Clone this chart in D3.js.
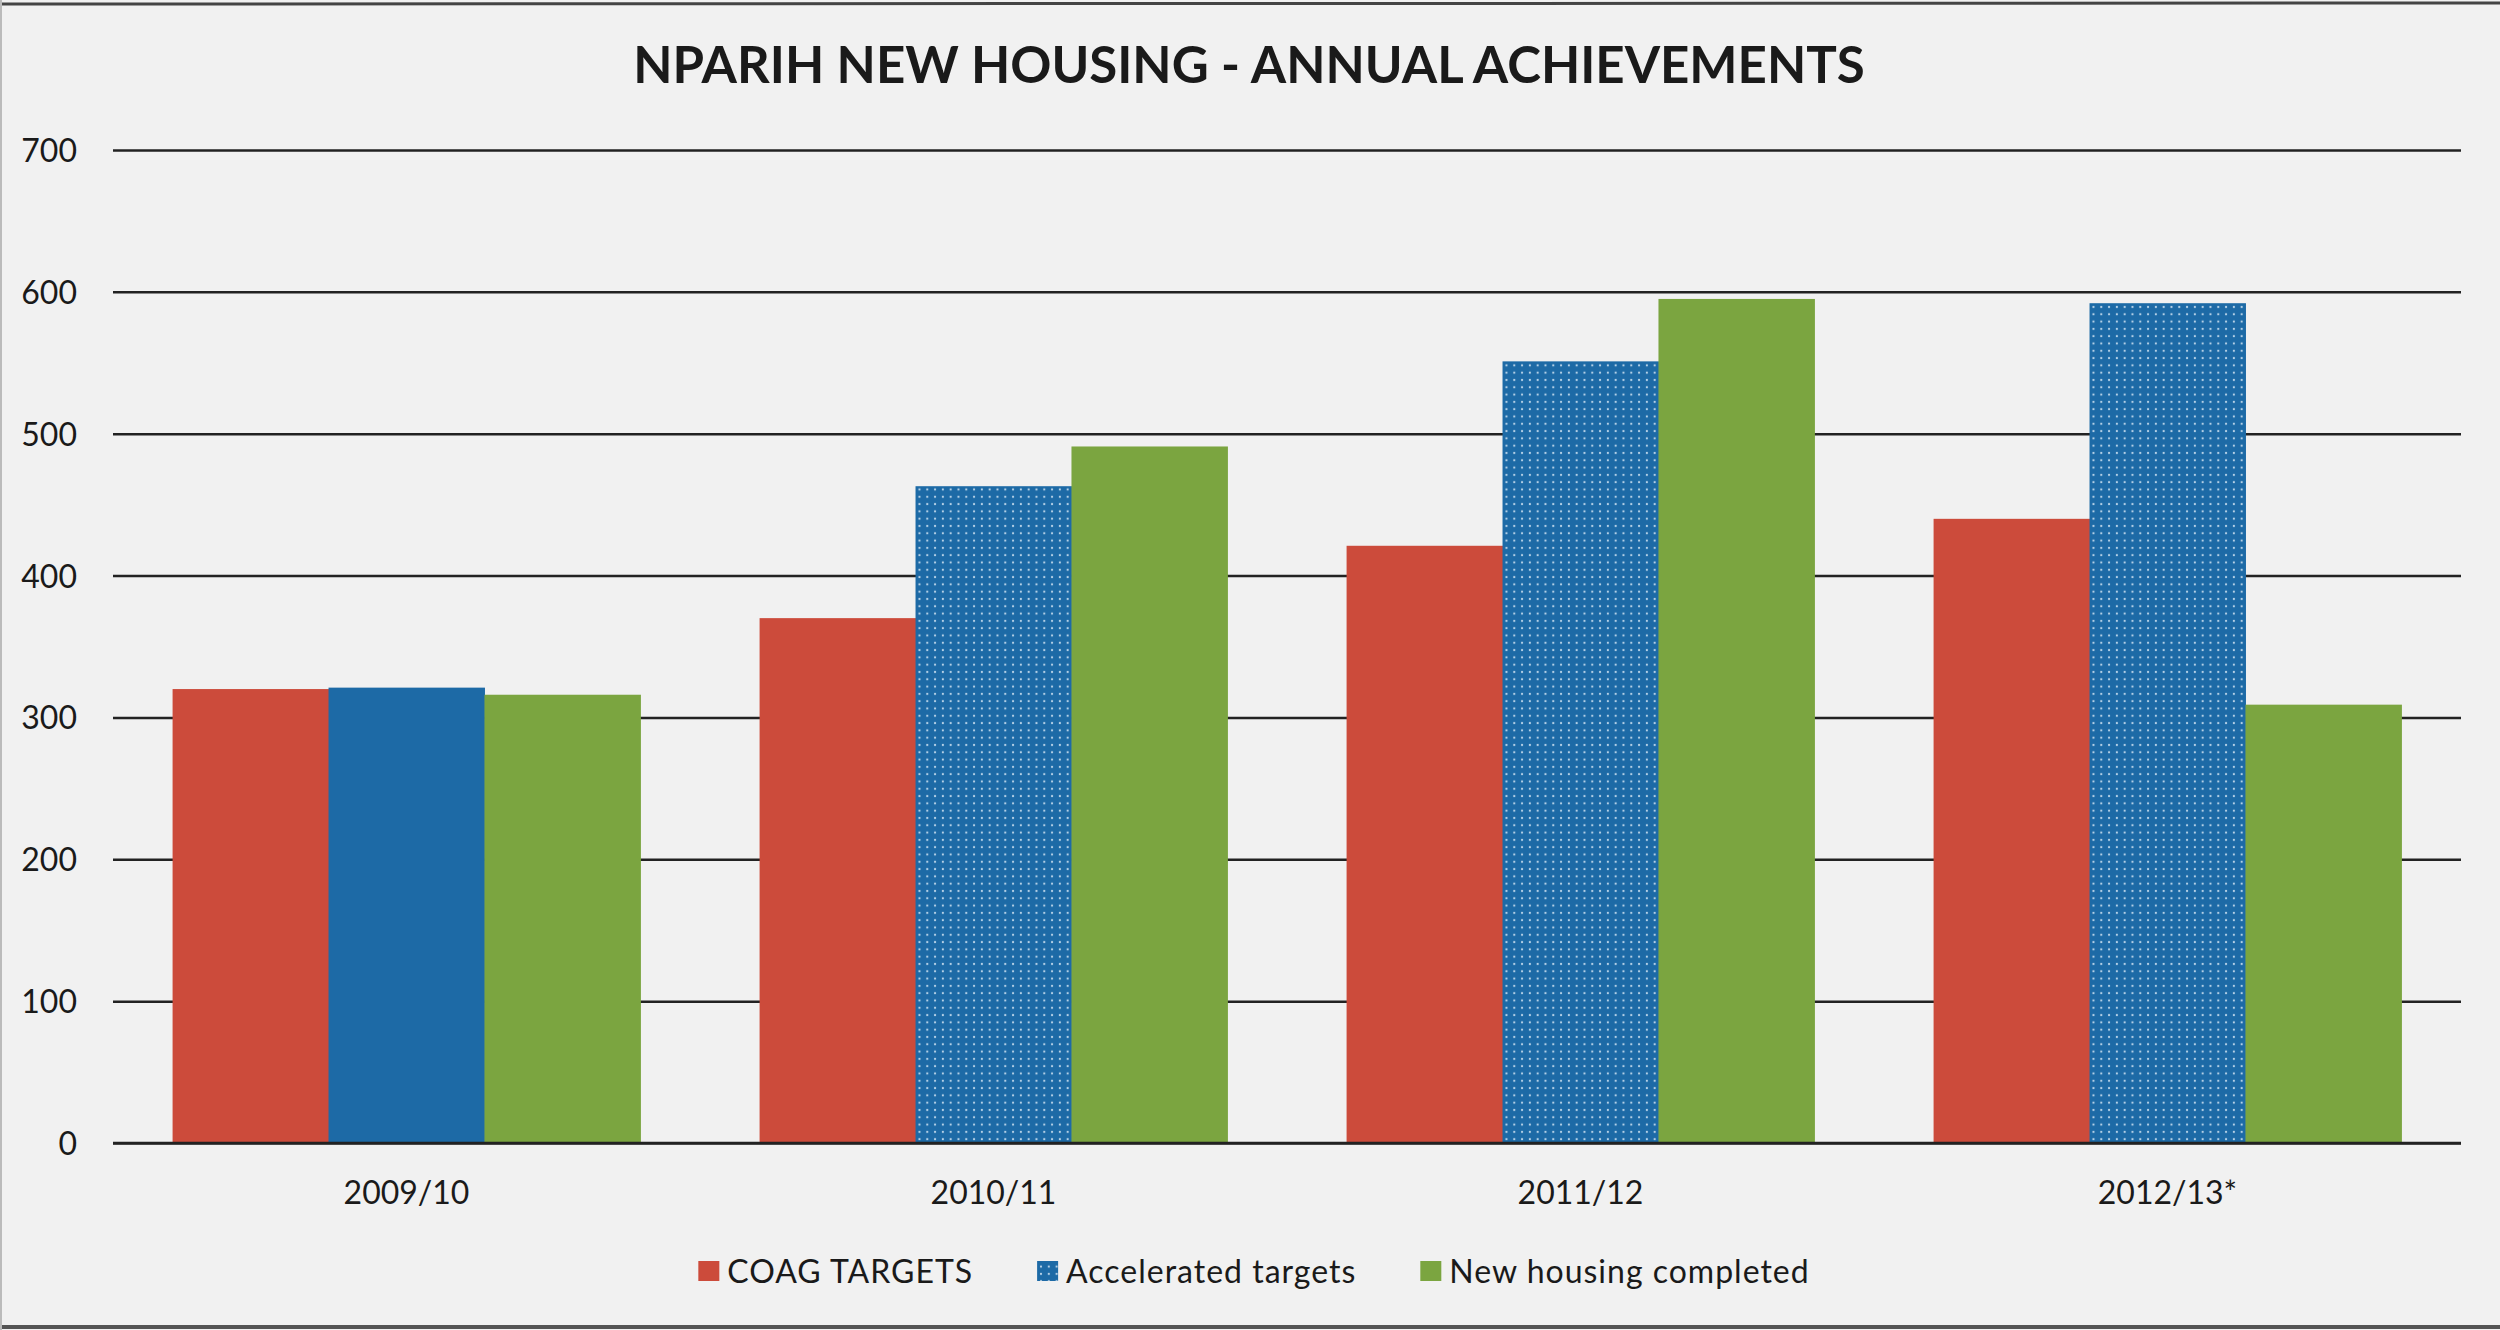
<!DOCTYPE html>
<html>
<head>
<meta charset="utf-8">
<script src="https://cdn.jsdelivr.net/npm/d3@7"></script>
<style>
   body { margin: 0; background: #f1f1f1; }
   .tick text { font-family: Lato, 'Open Sans', sans-serif; font-size: 32px; fill: #1a1a1a; }
   .title { font-family: Lato, 'Open Sans', sans-serif; font-weight: bold; font-size: 51px; fill: #1a1a1a; }
   .legend text { font-family: Lato, 'Open Sans', sans-serif; font-size: 32px; letter-spacing: 1px; fill: #1a1a1a; }
</style>
</head>
<body>
<svg id="chart"></svg>
<script>

// ~~~~~~~~~ data ~~~~~~~~~
var years = ["2009/10", "2010/11", "2011/12", "2012/13*"];
var seriesNames = ["COAG TARGETS", "Accelerated targets", "New housing completed"];
var coagTargets = [320, 370, 421, 440];
var acceleratedTargets = [321, 463, 551, 592];
var housingCompleted = [316, 491, 595, 309];
var yTicks = [0, 100, 200, 300, 400, 500, 600, 700];

var seriesValues = [coagTargets, acceleratedTargets, housingCompleted];

// ~~~~~~~~~ styles ~~~~~~~~~
var colors = ["#cc4b3b", "#1d6aa6", "#7ba540"];
var plainYears = ["2009/10"];      // the first accelerated bar is printed without the dot texture

var svgWidth = 2500, svgHeight = 1330;
var margin = { top: 150, right: 39, bottom: 187, left: 113 };
var chartWidth = svgWidth - margin.left - margin.right,
    chartHeight = svgHeight - margin.top - margin.bottom;

var svg = d3.select("#chart").attr("width", svgWidth).attr("height", svgHeight);

// dotted fill for the accelerated series
var pattern = svg.append("defs").append("pattern")
   .attr("id", "dots")
   .attr("patternUnits", "userSpaceOnUse")
   .attr("width", 7.8)
   .attr("height", 7.3);
pattern.append("rect").attr("width", 7.8).attr("height", 7.3).attr("fill", colors[1]);
pattern.append("circle").attr("cx", 3.9).attr("cy", 3.6).attr("r", 1.1).attr("fill", "#b9d3e8");

// scanned page edges
svg.append("line").attr("x1", 0).attr("x2", svgWidth).attr("y1", 4).attr("y2", 3)
   .attr("stroke", "#444").attr("stroke-width", 3);
svg.append("line").attr("x1", 0).attr("x2", svgWidth).attr("y1", 1327).attr("y2", 1327)
   .attr("stroke", "#555").attr("stroke-width", 4);
svg.append("line").attr("x1", 1).attr("x2", 1).attr("y1", 0).attr("y2", svgHeight)
   .attr("stroke", "#bbb").attr("stroke-width", 2);

svg.append("text")
   .attr("class", "title")
   .attr("x", 1249)
   .attr("y", 83)
   .attr("text-anchor", "middle")
   .text("NPARIH NEW HOUSING - ANNUAL ACHIEVEMENTS");

var chartgroup = svg.append("g").attr("transform", "translate(" + margin.left + "," + margin.top + ")");

var x_scale = d3.scaleBand().domain(years).range([0, chartWidth]).paddingInner(0.203).paddingOuter(0.1015);
var x_inner = d3.scaleBand().domain(seriesNames).range([0, x_scale.bandwidth()]);
var y_scale = d3.scaleLinear().domain([0, 700]).range([chartHeight, 0]);

// gridlines + y labels
chartgroup.append("g").attr("class", "y-axis")
   .call(d3.axisLeft(y_scale).tickValues(yTicks).tickSizeInner(-chartWidth).tickSizeOuter(0).tickPadding(36))
   .call(g => g.select(".domain").remove())
   .call(g => g.selectAll(".tick line").attr("stroke", "#222").attr("stroke-width", 2.5))
   .call(g => g.selectAll(".tick text").attr("dy", "0.36em"));

// x labels
chartgroup.append("g").attr("class", "x-axis")
   .attr("transform", "translate(0," + chartHeight + ")")
   .call(d3.axisBottom(x_scale).tickSizeInner(0).tickSizeOuter(0).tickPadding(38))
   .call(g => g.select(".domain").remove());

// bars
var groups = chartgroup.append("g").attr("class", "bars")
   .selectAll("g")
   .data(years)
   .enter()
   .append("g")
   .attr("transform", function(d){ return "translate(" + x_scale(d) + ",0)"; });

groups.selectAll("rect")
   .data(function(year, i){
      return seriesNames.map(function(name, s){ return { year: year, name: name, s: s, value: seriesValues[s][i] }; });
   })
   .enter()
   .append("rect")
   .attr("x", function(d){ return x_inner(d.name); })
   .attr("width", x_inner.bandwidth() + 0.5)
   .attr("y", function(d){ return y_scale(d.value); })
   .attr("height", function(d){ return chartHeight - y_scale(d.value); })
   .attr("fill", function(d){
      if (d.s == 1 && plainYears.indexOf(d.year) < 0) return "url(#dots)";
      return colors[d.s];
   });

// baseline drawn over the bars' bottoms
chartgroup.append("line")
   .attr("x1", 0).attr("x2", chartWidth)
   .attr("y1", y_scale(0)).attr("y2", y_scale(0))
   .attr("stroke", "#222").attr("stroke-width", 2.5);

// ~~~~~~~~~ legend ~~~~~~~~~
var legend = svg.append("g").attr("class", "legend");
var swatch = 21, swatchGap = 8, itemGap = 64;
var items = legend.selectAll("g").data(seriesNames).enter().append("g");
items.append("rect")
   .attr("width", swatch).attr("height", swatch - 1)
   .attr("y", 1261)
   .attr("fill", function(d, i){ return i == 1 ? "url(#dots)" : colors[i]; });
items.append("text")
   .attr("x", swatch + swatchGap)
   .attr("y", 1283)
   .text(function(d){ return d; });

var widths = [];
items.each(function(){ widths.push(swatch + swatchGap + this.querySelector("text").getComputedTextLength()); });
var total = d3.sum(widths) + itemGap * (widths.length - 1);
var cursor = 1254 - total / 2;
items.attr("transform", function(d, i){
   var tx = cursor;
   cursor += widths[i] + itemGap;
   return "translate(" + tx + ",0)";
});

</script>
</body>
</html>
